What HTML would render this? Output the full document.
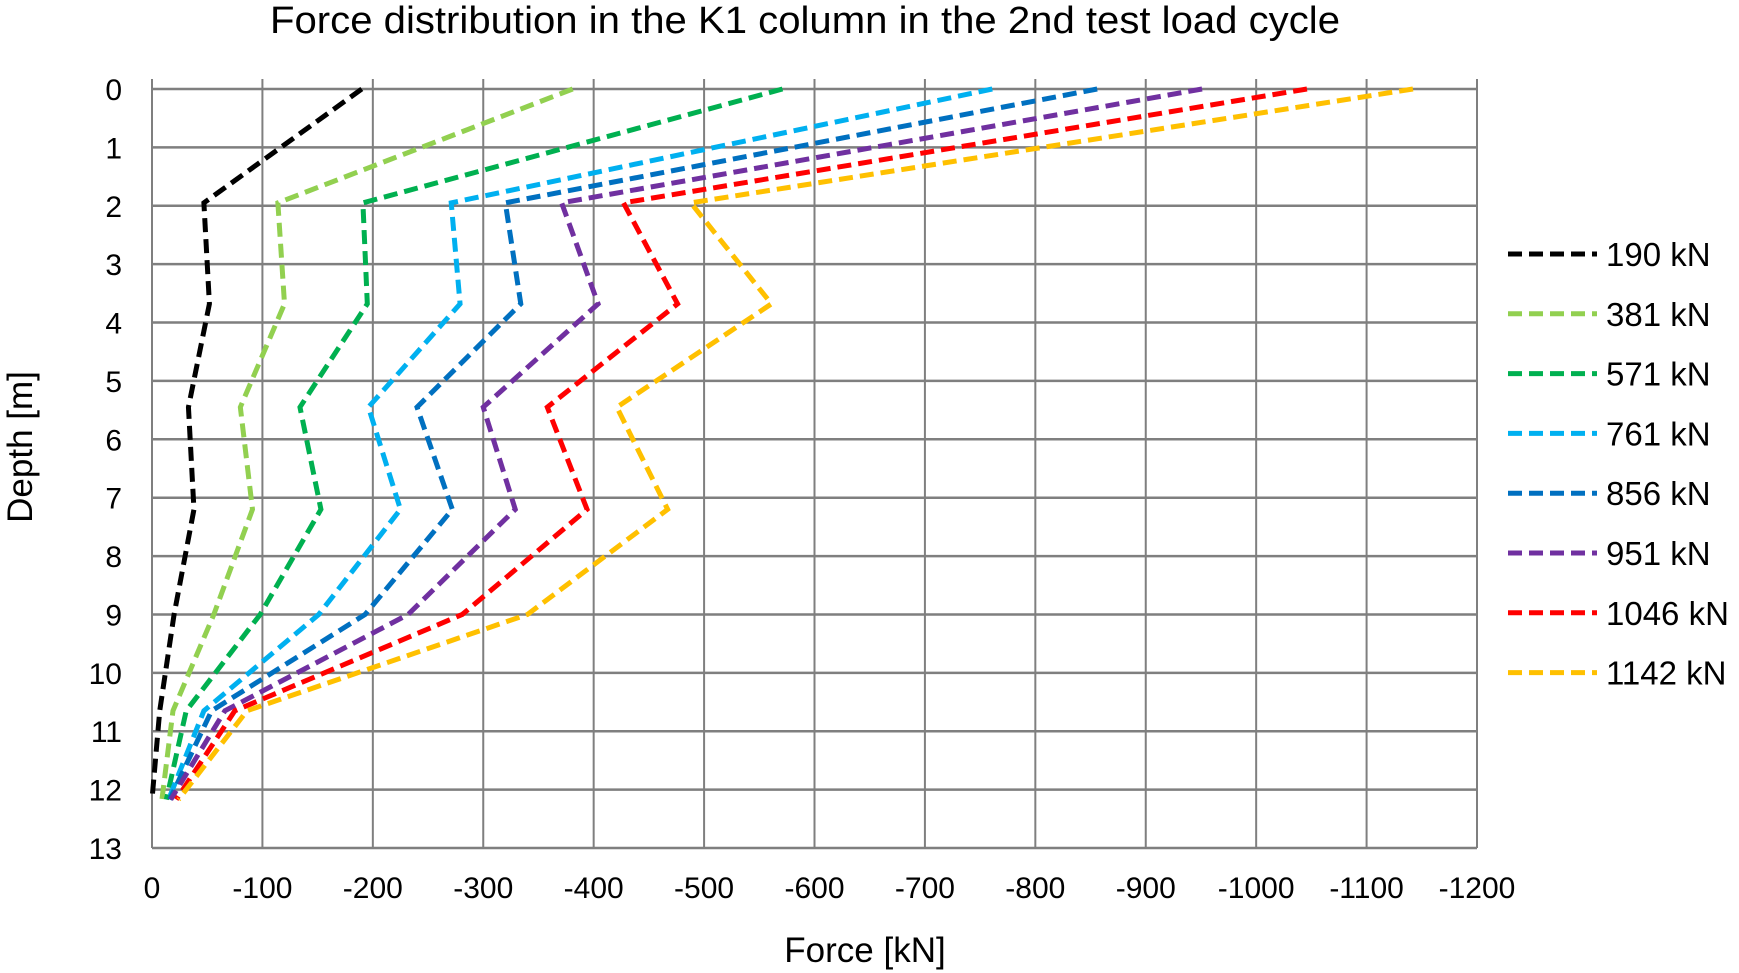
<!DOCTYPE html>
<html><head><meta charset="utf-8"><style>
html,body{margin:0;padding:0;background:#fff;}
svg{display:block;font-family:"Liberation Sans",sans-serif;}
</style></head><body>
<svg id="chart" width="1739" height="973" viewBox="0 0 1739 973">
<text x="270" y="33" textLength="1070" lengthAdjust="spacingAndGlyphs" font-size="38" fill="#000">Force distribution in the K1 column in the 2nd test load cycle</text>
<text x="865" y="962" text-anchor="middle" font-size="35" fill="#000">Force [kN]</text>
<text transform="translate(32,447) rotate(-90)" text-anchor="middle" font-size="35" fill="#000">Depth [m]</text>
<g id="grid"></g><g id="series"></g><g id="legend"></g>
</svg>
<script>
const depths = [0, 1.95, 3.68, 5.45, 7.2, 9.0, 10.65, 12.17];
const seriesNames = ["190 kN","381 kN","571 kN","761 kN","856 kN","951 kN","1046 kN","1142 kN"];
const s190 = [190, 47, 52, 33, 38, 20, 7, 0];
const s381 = [381, 114, 120, 80, 91, 56, 19, 9];
const s571 = [571, 191, 195, 134, 153, 98, 31, 13];
const s761 = [761, 271, 279, 196, 225, 151, 47, 15];
const s856 = [856, 320, 334, 240, 272, 193, 54, 16];
const s951 = [951, 371, 404, 300, 329, 232, 66, 17];
const s1046 = [1046, 427, 476, 358, 394, 281, 75, 22];
const s1142 = [1142, 488, 561, 421, 467, 340, 86, 24];
const xTicks = [0,100,200,300,400,500,600,700,800,900,1000,1100,1200];
const xTickLabels = ["0","-100","-200","-300","-400","-500","-600","-700","-800","-900","-1000","-1100","-1200"];
const yTicks = [0,1,2,3,4,5,6,7,8,9,10,11,12,13];

const allSeries=[s190,s381,s571,s761,s856,s951,s1046,s1142];
const colors=["#000000","#92d050","#00b050","#00b0f0","#0070c0","#7030a0","#ff0000","#ffc000"];
const X0=152,X1=1477,Y0=89,Y1=848;
const xs=v=>X0+(v/1200)*(X1-X0);
const ys=d=>Y0+(d/13)*(Y1-Y0);
const NS="http://www.w3.org/2000/svg";
function mk(tag,attrs,parent){const e=document.createElementNS(NS,tag);for(const k in attrs)e.setAttribute(k,attrs[k]);parent.appendChild(e);return e;}
const grid=document.getElementById('grid');
xTicks.forEach((t,i)=>{
  const l=mk('line',{x1:xs(t),x2:xs(t),y1:Y0-10,y2:Y1,stroke:'#7f7f7f','stroke-width':2},grid);
  
  
  const tx=mk('text',{x:xs(t),y:Y1+50,'text-anchor':'middle','font-size':30,fill:'#000'},grid);
  tx.textContent=xTickLabels[i];
  
  
});
yTicks.forEach(t=>{
  const l=mk('line',{x1:X0,x2:X1,y1:ys(t),y2:ys(t),stroke:'#7f7f7f','stroke-width':2.5},grid);
  
  
  const tx=mk('text',{x:122,y:ys(t)+11,'text-anchor':'end','font-size':30,fill:'#000'},grid);
  tx.textContent=String(t);
  
  
});
const sg=document.getElementById('series');
allSeries.forEach((s,i)=>{
  const pts=s.map((v,j)=>xs(v)+','+ys(depths[j])).join(' ');
  const p=mk('polyline',{points:pts,fill:'none',stroke:colors[i],'stroke-width':5,'stroke-dasharray':'14 7'},sg);
  
  
});
const lg=document.getElementById('legend');
seriesNames.forEach((n,i)=>{
  const y=254+i*59.8;
  const g=mk('g',{},lg);
  
  
  mk('line',{x1:1508,x2:1597,y1:y,y2:y,stroke:colors[i],'stroke-width':5,'stroke-dasharray':'14 7'},g);
  const t=mk('text',{x:1606,y:y+12,'font-size':33,fill:'#000'},g);
  t.textContent=n;
});
</script>
</body></html>
